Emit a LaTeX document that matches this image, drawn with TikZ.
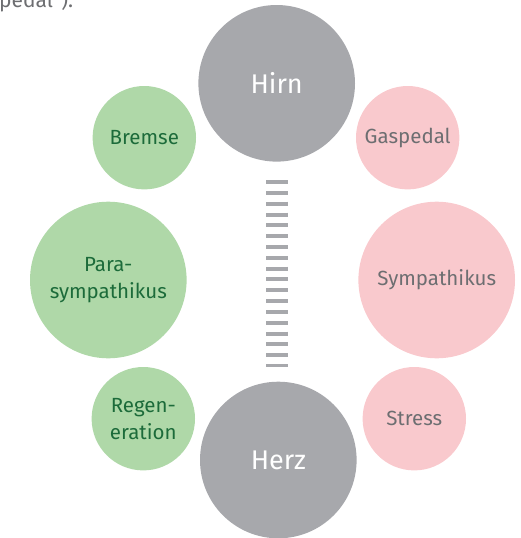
\documentclass[tikz,border=0pt]{standalone}
\usepackage{fontspec}
\setmainfont{Fira Sans}
\definecolor{cgray}{HTML}{A7A8AC}
\definecolor{cgreen}{HTML}{AFD8A8}
\definecolor{cpink}{HTML}{F9C9CD}
\definecolor{tgreen}{HTML}{1C6B3A}
\definecolor{tgray}{HTML}{6D6E71}
\tikzset{
  bigc/.style={circle, inner sep=0pt, minimum size=156.6pt, align=center},
  smallc/.style={circle, inner sep=0pt, minimum size=103.4pt, align=center},
  core/.style={bigc, fill=cgray, text=white, font=\fontsize{27}{30}\selectfont},
  calm/.style={fill=cgreen, text=tgreen, font=\fontsize{20.5}{27}\selectfont},
  alert/.style={fill=cpink, text=tgray, font=\fontsize{20.5}{27}\selectfont},
  dashbar/.style={draw=cgray, line width=22pt, dash pattern=on 4pt off 6.82pt}
}
\begin{document}
\begin{tikzpicture}[x=1pt, y=-1pt]
\useasboundingbox (0,0) rectangle (520,538);
\node[anchor=base west, text=tgray, font=\fontsize{21}{25}\selectfont, inner sep=0pt] (intro) at (-1,7) {pedal“).};
\node[core] (hirn) at (276.7,83.3) {Hirn};
\node[core] (herz) at (278.3,460) {Herz};
\node[smallc, calm] (bremse) at (144.3,137.7) {Bremse};
\node[smallc, alert] (gas) at (407.7,137.7) {Gaspedal};
\node[bigc, calm] (para) at (108.3,280) {Para-\\sympathikus};
\node[bigc, alert] (sym) at (436.7,280) {Sympathikus};
\node[smallc, calm] (regen) at (143.3,418.7) {Regen-\\eration};
\node[smallc, alert] (stress) at (414.3,418.7) {Stress};
\draw[dashbar, shorten <=18.3pt, shorten >=14.3pt] ([xshift=0.3pt]hirn.south) -- ([xshift=0.3pt]hirn.south |- herz.north);
\end{tikzpicture}
\end{document}
